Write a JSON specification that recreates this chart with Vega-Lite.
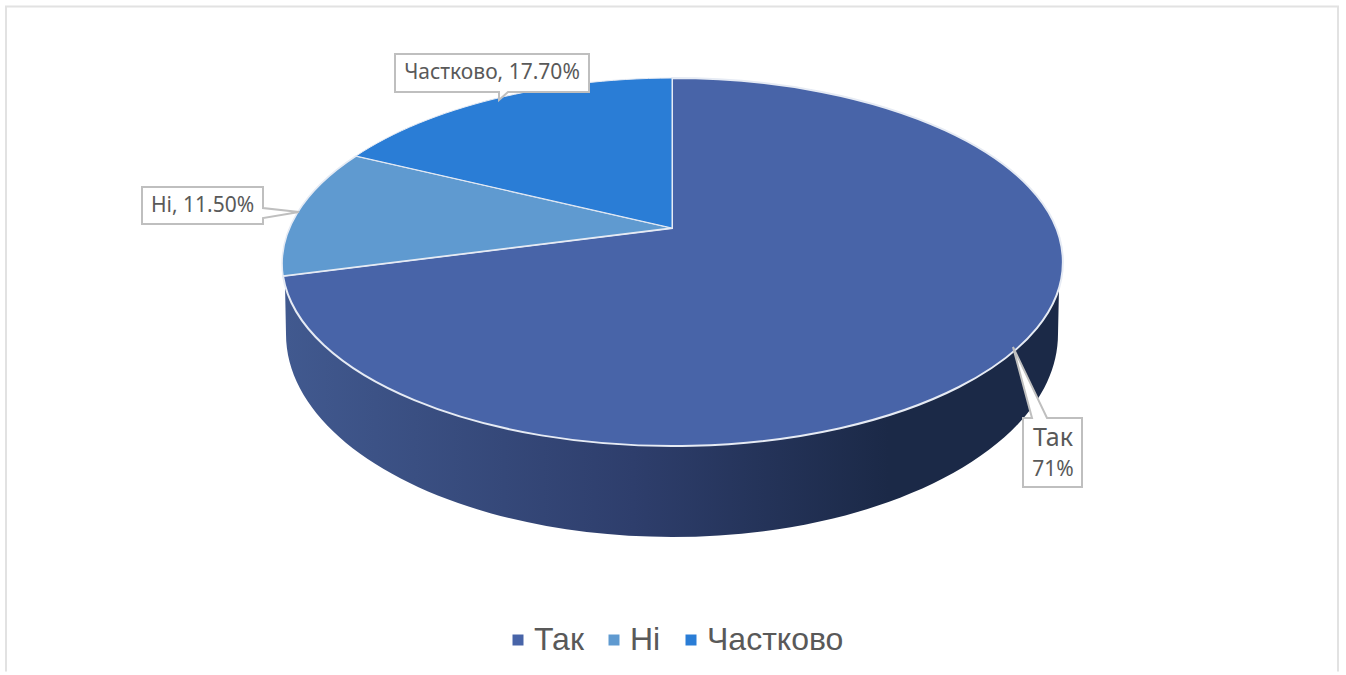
{
  "$schema": "https://vega.github.io/schema/vega-lite/v6.json",
  "width": 1346,
  "height": 675,
  "padding": 0,
  "autosize": {"type": "fit", "contains": "padding"},
  "background": "#ffffff",
  "config": {"view": {"stroke": null}},
  "data": {"values": [
    {"category": "Так", "value": 71, "label": "Так", "percent": "71%"},
    {"category": "Ні", "value": 11.5, "label": "Ні, 11.50%", "percent": "11.50%"},
    {"category": "Частково", "value": 17.7, "label": "Частково, 17.70%", "percent": "17.70%"}
  ]},
  "layer": [
    {
      "transform": [{"filter": "datum.category === 'Так'"}],
      "mark": {"type": "point", "filled": false, "opacity": 1, "size": 4, "fill": null, "stroke": "#e2e2e2", "strokeWidth": 2,
        "shape": "M-667,335 L-667,-330 L665,-330 L665,335"},
      "encoding": {}
    },
    {
      "transform": [{"filter": "datum.category === 'Так'"}],
      "mark": {"type": "point", "filled": true, "opacity": 1, "size": 4,
        "shape": "M-388,-51.5 L-387,-2.5 A386,203 0 0 0 385,-2.5 L386,-48.5 A390.5,184 0 0 1 -388,-51.5 Z",
        "fill": {"gradient": "linear", "x1": 0, "y1": 0, "x2": 1, "y2": 0, "stops": [
          {"offset": 0, "color": "#41598f"},
          {"offset": 0.45, "color": "#2e3e6c"},
          {"offset": 0.78, "color": "#1b2947"},
          {"offset": 1, "color": "#1b2947"}
        ]}},
      "encoding": {}
    },
    {
      "transform": [{"filter": "datum.category === 'Так'"}],
      "mark": {"type": "point", "filled": true, "opacity": 1, "size": 4, "stroke": "#e6ebf4", "strokeWidth": 2,
        "shape": "M-1,-108.5 L-1,-258.5 A390.5,184 0 1 1 -390,-60.5 Z"},
      "encoding": {
        "color": {
          "field": "category", "type": "nominal",
          "scale": {"domain": ["Так", "Ні", "Частково"], "range": ["#4864a8", "#5f9ad0", "#2a7dd6"]},
          "legend": {
            "title": null, "orient": "none", "legendX": 502, "legendY": 624, "direction": "horizontal", "columns": 3,
            "symbolType": "square", "symbolSize": 121, "symbolStrokeWidth": 0, "symbolOpacity": 1,
            "labelFont": "Liberation Sans", "labelFontSize": 32, "labelColor": "#595959", "labelOffset": 0,
            "columnPadding": 14, "labelLimit": 300
          }
        }
      }
    },
    {
      "transform": [{"filter": "datum.category === 'Ні'"}],
      "mark": {"type": "point", "filled": true, "opacity": 1, "size": 4, "stroke": "#e6ebf4", "strokeWidth": 1.5,
        "shape": "M-1,-108.5 L-390,-60.5 A390.5,184 0 0 1 -317,-180.5 Z"},
      "encoding": {"color": {"field": "category", "type": "nominal"}}
    },
    {
      "transform": [{"filter": "datum.category === 'Частково'"}],
      "mark": {"type": "point", "filled": true, "opacity": 1, "size": 4, "stroke": "#e6ebf4", "strokeWidth": 1,
        "shape": "M-1,-108.5 L-317,-180.5 A390.5,184 0 0 1 -1,-258.5 Z"},
      "encoding": {"color": {"field": "category", "type": "nominal"}}
    },
    {
      "transform": [{"filter": "datum.category === 'Частково'"}],
      "mark": {"type": "point", "filled": true, "opacity": 1, "size": 4, "fill": "#ffffff", "stroke": "#bfbfbf", "strokeWidth": 2,
        "shape": "M-278,-282.5 L-84,-282.5 L-84,-244.5 L-165,-244.5 L-174,-236.5 L-174,-244.5 L-278,-244.5 Z"},
      "encoding": {}
    },
    {
      "transform": [{"filter": "datum.category === 'Ні'"}],
      "mark": {"type": "point", "filled": true, "opacity": 1, "size": 4, "fill": "#ffffff", "stroke": "#bfbfbf", "strokeWidth": 2,
        "shape": "M-531,-149.5 L-410,-149.5 L-410,-128.5 L-374,-124.5 L-410,-118.5 L-410,-112.5 L-531,-112.5 Z"},
      "encoding": {}
    },
    {
      "transform": [{"filter": "datum.category === 'Так'"}],
      "mark": {"type": "point", "filled": true, "opacity": 1, "size": 4, "fill": "#ffffff", "stroke": "#bfbfbf", "strokeWidth": 2,
        "shape": "M350,81.5 L359,81.5 L340,10.5 L374,81.5 L409,81.5 L409,150.5 L350,150.5 Z"},
      "encoding": {}
    },
    {
      "transform": [{"filter": "datum.category === 'Частково'"}],
      "mark": {"type": "text", "font": "Noto Sans", "fontSize": 21, "color": "#595959", "dx": -181, "dy": -263.5, "align": "center", "baseline": "middle"},
      "encoding": {"text": {"field": "label"}}
    },
    {
      "transform": [{"filter": "datum.category === 'Ні'"}],
      "mark": {"type": "text", "font": "Noto Sans", "fontSize": 21, "color": "#595959", "dx": -470.5, "dy": -131, "align": "center", "baseline": "middle"},
      "encoding": {"text": {"field": "label"}}
    },
    {
      "transform": [{"filter": "datum.category === 'Так'"}],
      "mark": {"type": "text", "font": "Noto Sans", "fontSize": 25, "color": "#595959", "dx": 380, "dy": 101.5, "align": "center", "baseline": "middle"},
      "encoding": {"text": {"field": "label"}}
    },
    {
      "transform": [{"filter": "datum.category === 'Так'"}],
      "mark": {"type": "text", "font": "Noto Sans", "fontSize": 21, "color": "#595959", "dx": 380, "dy": 133, "align": "center", "baseline": "middle"},
      "encoding": {"text": {"field": "percent"}}
    }
  ]
}
